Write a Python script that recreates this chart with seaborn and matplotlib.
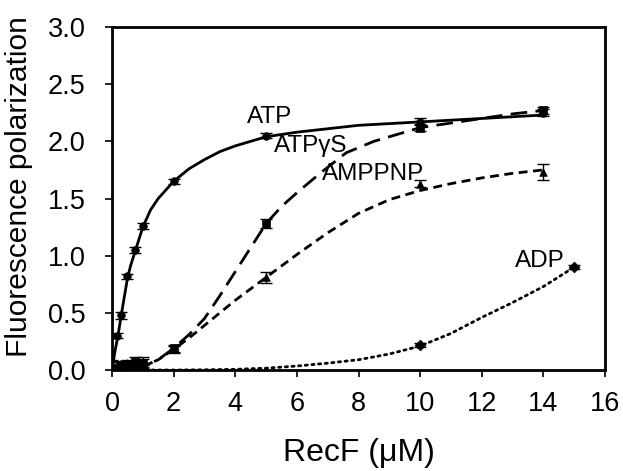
import matplotlib
matplotlib.use("Agg")
import matplotlib.pyplot as plt
import seaborn as sns
import pandas as pd

sns.set_theme(style="white")
plt.rcParams['font.family'] = ['Liberation Sans', 'DejaVu Sans']

# ---- measured points ----
atp_x = [0, 0.15, 0.3, 0.5, 0.75, 1.0, 2, 5, 10, 14]
atp_y = [0.0, 0.30, 0.48, 0.82, 1.05, 1.26, 1.65, 2.05, 2.17, 2.25]
atp_e = [0.02, 0.02, 0.03, 0.02, 0.03, 0.03, 0.02, 0.02, 0.03, 0.03]

atpgs_x = [0, 0.25, 0.5, 0.75, 1.0, 2, 5, 10, 14]
atpgs_y = [0.02, 0.04, 0.05, 0.07, 0.06, 0.19, 1.28, 2.12, 2.27]
atpgs_e = [0.05, 0.03, 0.03, 0.04, 0.04, 0.03, 0.04, 0.03, 0.03]

amppnp_x = [0, 0.25, 0.5, 0.75, 1.0, 2, 5, 10, 14]
amppnp_y = [0.03, 0.05, 0.06, 0.05, 0.07, 0.18, 0.81, 1.63, 1.73]
amppnp_e = [0.06, 0.03, 0.03, 0.03, 0.04, 0.03, 0.05, 0.03, 0.07]

adp_x = [0, 0.25, 0.5, 1.0, 10, 15]
adp_y = [0.0, 0.02, 0.03, 0.02, 0.22, 0.90]
adp_e = [0.03, 0.02, 0.02, 0.02, 0.02, 0.02]

# ---- fitted curves ----
atp_cx = [0, 0.1, 0.2, 0.3, 0.4, 0.5, 0.6, 0.8, 1.0, 1.25, 1.5, 2, 2.5, 3, 3.5, 4, 5, 6, 7, 8, 10, 12, 14]
atp_cy = [0, 0.17, 0.31, 0.48, 0.64, 0.80, 0.91, 1.08, 1.25, 1.40, 1.50, 1.65, 1.76, 1.84, 1.91, 1.96, 2.04, 2.08, 2.11, 2.14, 2.17, 2.20, 2.23]

atpgs_cx = [0, 0.5, 1.0, 1.5, 2, 2.5, 3, 3.5, 4, 4.5, 5, 5.5, 6, 6.75, 7.6, 8.5, 10, 11, 12, 13, 14]
atpgs_cy = [0.0, 0.01, 0.03, 0.09, 0.19, 0.31, 0.45, 0.65, 0.86, 1.07, 1.28, 1.43, 1.55, 1.72, 1.90, 2.00, 2.12, 2.16, 2.20, 2.24, 2.27]

amppnp_cx = [0, 0.5, 1.0, 1.5, 2, 2.5, 3, 3.5, 4, 4.5, 5, 6, 7, 8, 9, 10, 11, 12, 13, 14]
amppnp_cy = [0.0, 0.01, 0.03, 0.09, 0.18, 0.28, 0.39, 0.50, 0.61, 0.71, 0.81, 1.01, 1.20, 1.37, 1.49, 1.57, 1.63, 1.68, 1.72, 1.75]

adp_cx = [0, 2, 3, 4, 5, 6, 7, 8, 9, 10, 11, 12, 13, 14, 15]
adp_cy = [0.0, 0.0, 0.002, 0.006, 0.016, 0.035, 0.06, 0.09, 0.14, 0.21, 0.32, 0.46, 0.59, 0.73, 0.90]

labels = ["ATP", "ATPγS", "AMPPNP", "ADP"]

fig = plt.figure(figsize=(6.23, 4.71), dpi=100)
ax = fig.add_axes([0.1798, 0.2144, 0.7913, 0.7283])

curves = [(atp_cx, atp_cy, (None)), (atpgs_cx, atpgs_cy, (6, 3)),
          (amppnp_cx, amppnp_cy, (3.2, 2.0)), (adp_cx, adp_cy, (0.8, 1.6))]
for (cx, cy, dash) in curves:
    df = pd.DataFrame({"x": cx, "y": cy})
    sns.lineplot(data=df, x="x", y="y", ax=ax, color="black", lw=2.0,
                 estimator=None, sort=False)
    l = ax.lines[-1]
    if dash is not None:
        l.set_dashes(dash)
        if dash[0] < 1:
            l.set_dash_capstyle("round")

points = [(atp_x, atp_y, atp_e, "o"), (atpgs_x, atpgs_y, atpgs_e, "s"),
          (amppnp_x, amppnp_y, amppnp_e, "^"), (adp_x, adp_y, adp_e, "D")]
for (px, py, pe, m) in points:
    ax.errorbar(px, py, yerr=pe, fmt="none", ecolor="black", elinewidth=1.0,
                capsize=4, capthick=1.0, zorder=3)
    df = pd.DataFrame({"x": px, "y": py})
    sns.scatterplot(data=df, x="x", y="y", ax=ax, marker=m, color="black",
                    s=30, edgecolor="black", linewidth=0.5, zorder=4)

tkw = dict(fontsize=17.5, ha="center", va="center", color="black")
ax.text(5.13, 2.21, labels[0], **tkw)
ax.text(6.46, 1.96, labels[1], **tkw)
ax.text(8.47, 1.71, labels[2], **tkw)
ax.text(13.9, 0.95, labels[3], **tkw)

ax.set_xlim(0, 16)
ax.set_ylim(0, 3.0)
ax.set_xticks(range(0, 17, 2))
ax.set_yticks([0, 0.5, 1.0, 1.5, 2.0, 2.5, 3.0])
ax.set_yticklabels(["0.0", "0.5", "1.0", "1.5", "2.0", "2.5", "3.0"])
ax.tick_params(axis="both", labelsize=19.5, direction="out", length=5, width=1.2,
               color="black", labelcolor="black", left=True, bottom=True)
ax.tick_params(axis="y", pad=14)
ax.tick_params(axis="x", pad=10)
for s in ax.spines.values():
    s.set_color("black")
    s.set_linewidth(2.0)
ax.set_xlabel("RecF (μM)", fontsize=23, labelpad=15, color="black")
ax.set_ylabel("Fluorescence polarization", fontsize=21.5, color="black")
ax.yaxis.set_label_coords(-0.16, 0.536)

fig.savefig("out.png", dpi=100)
